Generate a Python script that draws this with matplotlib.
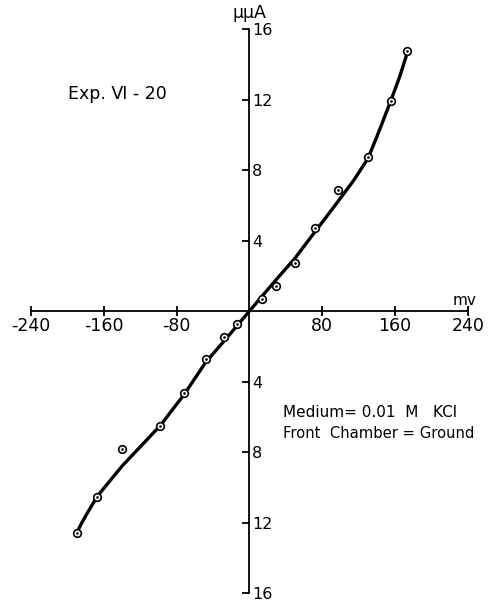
import numpy as np
import matplotlib.pyplot as plt

plt.rcParams["axes.unicode_minus"] = False
plt.rcParams["font.family"] = "DejaVu Sans"

# measured points (mV, micro-micro-amps)
volts = [-190, -167, -140, -98, -72, -48, -28, -13.5, 13.3, 29, 49.5, 72.5, 97, 130, 155.5, 173.5]
current = [-12.6, -10.54, -7.85, -6.54, -4.66, -2.74, -1.5, -0.75, 0.7, 1.41, 2.72, 4.72, 6.86, 8.72, 11.94, 14.76]

# hand drawn curve
curve_x = [-190, -184, -178, -167, -140, -98, -72, -48, -27, 0, 28, 50, 72, 97, 115, 130, 140, 155, 165, 174]
curve_y = [-12.6, -12.0, -11.45, -10.5, -8.8, -6.5, -4.75, -2.9, -1.65, 0, 1.7, 3.0, 4.5, 6.2, 7.45, 8.65, 9.9, 11.9, 13.3, 14.76]

x_ticks = [-240, -160, -80, 80, 160, 240]
x_labels = ["-240", "-160", "-80", "80", "160", "240"]
y_ticks = [-16, -12, -8, -4, 4, 8, 12, 16]
y_labels = ["16", "12", "8", "4", "4", "8", "12", "16"]

fig = plt.figure(figsize=(4.88, 6.01), dpi=100)
ax = fig.add_axes([0.0635, 0.0133, 0.8955, 0.9384])
ax.set_xlim(-240, 240)
ax.set_ylim(-16, 16)

# axes through the origin
ax.spines["left"].set_position(("data", 0))
ax.spines["bottom"].set_position(("data", 0))
ax.spines["right"].set_position(("data", 0))
ax.spines["top"].set_visible(False)
ax.spines["right"].set_visible(False)
for s in ["left", "bottom"]:
    ax.spines[s].set_linewidth(1.3)

ax.set_xticks(x_ticks)
ax.set_xticklabels(x_labels, fontsize=12.5)
ax.set_yticks(y_ticks)
ax.set_yticklabels(y_labels, fontsize=11.5)
ax.tick_params(axis="x", direction="inout", length=7, width=1.3, pad=1)
ax.tick_params(axis="y", left=True, right=False, labelleft=False, labelright=True,
               direction="out", length=5, width=1.3, pad=-3)

ax.plot(curve_x, curve_y, color="black", lw=2.4, zorder=2)
ax.plot(volts, current, "o", ms=5.5, mfc="white", mec="black", mew=1.2, zorder=3)
ax.plot(volts, current, ".", ms=1.8, color="black", zorder=4)

ax.annotate("μμA", xy=(0, 16), xytext=(0, 5), textcoords="offset points",
            ha="center", va="bottom", fontsize=12.5)
ax.annotate("mv", xy=(236, 0), xytext=(0, 2), textcoords="offset points",
            ha="center", va="bottom", fontsize=11)

ax.text(-199, 12.3, "Exp. Ⅵ - 20", fontsize=12.5, va="center")
ax.text(37, -5.75, "Medium= 0.01  M   KCl", fontsize=11, va="center")
ax.text(37, -6.95, "Front  Chamber = Ground", fontsize=10.6, va="center")

fig.savefig("out.png", dpi=100)
